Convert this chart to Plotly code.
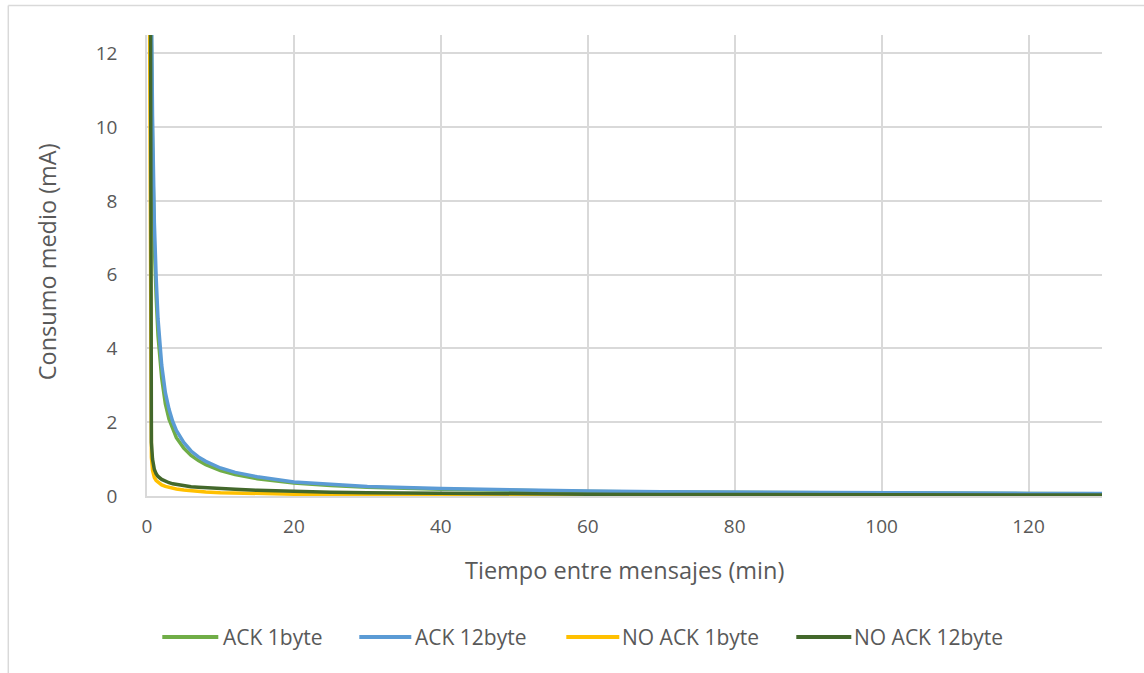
import plotly.graph_objects as go

# Tiempo entre mensajes (min)
t = [0.1, 0.5, 0.6, 0.75, 1, 1.25, 1.5, 2, 2.5, 3, 3.5, 4, 5, 6, 7, 8, 10, 12, 15,
     20, 25, 30, 40, 50, 60, 70, 80, 90, 100, 110, 120, 130]

# Consumo medio (mA) por configuración
ack_1byte = [60.0, 14.8, 12.3, 9.5, 6.8, 5.4, 4.35, 3.2, 2.5, 2.08, 1.8, 1.58, 1.3, 1.1,
             0.96, 0.85, 0.69, 0.58, 0.47, 0.35, 0.285, 0.24, 0.185, 0.15, 0.125,
             0.108, 0.095, 0.086, 0.078, 0.071, 0.066, 0.061]
ack_12byte = [64.0, 16.0, 13.3, 10.3, 7.4, 5.9, 4.8, 3.55, 2.8, 2.35, 2.02, 1.78, 1.45,
              1.22, 1.06, 0.94, 0.76, 0.64, 0.52, 0.38, 0.31, 0.26, 0.2, 0.16, 0.135,
              0.117, 0.103, 0.093, 0.084, 0.077, 0.071, 0.066]
noack_1byte = [25.0, 1.6, 1.05, 0.7, 0.5, 0.42, 0.37, 0.3, 0.26, 0.23, 0.21, 0.19, 0.16,
               0.14, 0.125, 0.11, 0.09, 0.08, 0.065, 0.05, 0.04, 0.035, 0.027, 0.022,
               0.018, 0.016, 0.014, 0.013, 0.012, 0.011, 0.01, 0.009]
noack_12byte = [50.0, 2.0, 1.45, 1.0, 0.72, 0.6, 0.53, 0.45, 0.4, 0.36, 0.33, 0.31, 0.27,
                0.25, 0.235, 0.22, 0.2, 0.18, 0.155, 0.125, 0.105, 0.09, 0.07, 0.058,
                0.05, 0.044, 0.039, 0.035, 0.032, 0.029, 0.027, 0.025]

series = [
    ("ACK 1byte", ack_1byte, "#70AD47"),
    ("ACK 12byte", ack_12byte, "#5B9BD5"),
    ("NO ACK 1byte", noack_1byte, "#FFC000"),
    ("NO ACK 12byte", noack_12byte, "#43682B"),
]

FONT = "Open Sans"
TXT = "#595959"
GRID = "#D9D9D9"

# canvas and plot-area geometry (pixels)
W, H = 1144, 673
L, R, T, B = 146.7, 1101.7, 35, 496


def px(x):
    return (x - L) / (R - L)


def py(y):
    return (B - y) / (B - T)


fig = go.Figure()
for name, vals, col in series:
    fig.add_trace(go.Scatter(x=t, y=vals, name=name, mode="lines",
                             line=dict(color=col, width=3.5), showlegend=False))

# legend row below the x-axis title: a short coloured stroke followed by the name
legend_row = [  # (stroke start, stroke end, text start)
    (162, 218, 221),
    (359, 411, 413),
    (566, 619, 620),
    (796, 851, 852),
]
legend_y = 637
shapes = []
annotations = []
for (name, _, col), (x0, x1, xt) in zip(series, legend_row):
    shapes.append(dict(type="line", xref="paper", yref="paper", x0=px(x0), x1=px(x1),
                       y0=py(legend_y), y1=py(legend_y), line=dict(color=col, width=4)))
    annotations.append(dict(text=name, x=px(xt), y=py(legend_y), xref="paper",
                            yref="paper", showarrow=False, xanchor="left",
                            yanchor="middle", font=dict(size=21, color=TXT)))

# chart frame edges
shapes += [
    dict(type="line", xref="paper", yref="paper", x0=px(8), x1=px(1144),
         y0=py(5.5), y1=py(5.5), line=dict(color=GRID, width=1.5)),
    dict(type="line", xref="paper", yref="paper", x0=px(8), x1=px(8),
         y0=py(5.5), y1=py(673), line=dict(color=GRID, width=1.5)),
]

annotations += [
    dict(text="Tiempo entre mensajes (min)", x=px(624), y=py(570), xref="paper",
         yref="paper", showarrow=False, font=dict(size=23.5, color=TXT),
         xanchor="center", yanchor="middle"),
    dict(text="Consumo medio (mA)", x=px(47), y=py(262), xref="paper", yref="paper",
         showarrow=False, textangle=-90, font=dict(size=23.5, color=TXT),
         xanchor="center", yanchor="middle"),
]

fig.update_layout(
    width=W, height=H,
    margin=dict(l=L, r=W - R, t=T, b=H - B),
    paper_bgcolor="white", plot_bgcolor="white",
    font=dict(family=FONT, color=TXT, size=17),
    showlegend=False,
    xaxis=dict(range=[0, 130], dtick=20, tick0=0, showgrid=True, gridcolor=GRID,
               gridwidth=1.5, zeroline=False, showline=True, linecolor=GRID, linewidth=1.5,
               ticks="", ticklabelstandoff=12, tickfont=dict(size=19, color=TXT)),
    yaxis=dict(range=[0, 12.5], dtick=2, tick0=0, showgrid=True, gridcolor=GRID,
               gridwidth=1.5, zeroline=False, showline=True, linecolor=GRID, linewidth=1.5,
               ticks="", ticklabelstandoff=24, tickfont=dict(size=19, color=TXT)),
    annotations=annotations,
    shapes=shapes,
)

fig.write_html("out.html")
